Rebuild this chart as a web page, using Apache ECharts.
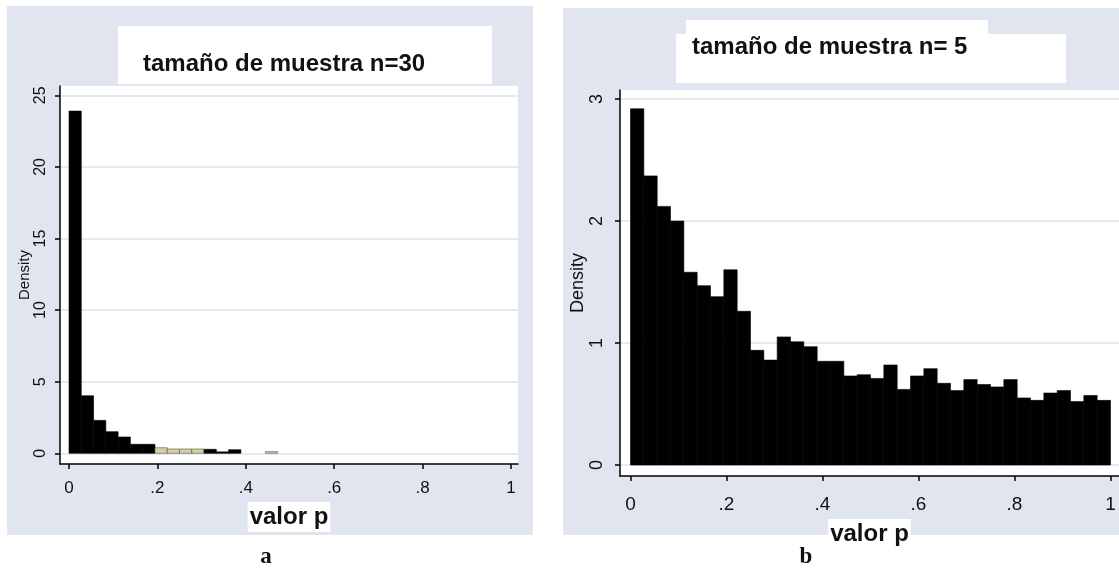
<!DOCTYPE html>
<html>
<head>
<meta charset="utf-8">
<script src="https://cdn.jsdelivr.net/npm/echarts@6/dist/echarts.min.js"></script>
<style>
  html, body { margin: 0; padding: 0; background: #fff; }
  #main { width: 1119px; height: 570px; }
</style>
</head>
<body>
<div id="main"></div>
<script>
// histogram of p-values, 36 bins on [0, 1]
const binCount = 36
const xTicks = [0, 0.2, 0.4, 0.6, 0.8, 1]
const leftYTicks = [0, 5, 10, 15, 20, 25]
const rightYTicks = [0, 1, 2, 3]
const leftDensity = [23.9, 4.02, 2.30, 1.51, 1.14, 0.63, 0.63, 0.39, 0.30, 0.30, 0.30, 0.28,
  0.10, 0.25, 0, 0, 0.12, 0, 0, 0, 0, 0, 0, 0, 0, 0, 0, 0, 0, 0, 0, 0, 0, 0, 0, 0]
const rightDensity = [2.92, 2.37, 2.12, 2.00, 1.58, 1.47, 1.38, 1.60, 1.26, 0.94, 0.86, 1.05,
  1.01, 0.97, 0.85, 0.85, 0.73, 0.74, 0.71, 0.82, 0.62, 0.73, 0.79, 0.67,
  0.61, 0.70, 0.66, 0.64, 0.70, 0.55, 0.53, 0.59, 0.61, 0.52, 0.57, 0.53]
// bins that look washed out (beige) in the left picture
const leftPaleBins = [7, 8, 9, 10, 16]

const panelBg = '#e0e5ef'
const gridColor = '#dde2ec'
const font = 'Liberation Sans, Arial, sans-serif'

const chart = echarts.init(document.getElementById('main'))

function toBins (arr) {
  return arr.map((v, i) => [i / binCount, (i + 1) / binCount, v, i])
}

function renderBar (pale) {
  return function (params, api) {
    if (!(api.value(2) > 0)) return null
    const p0 = api.coord([api.value(0), api.value(2)])
    const p1 = api.coord([api.value(1), 0])
    const isPale = pale && pale.indexOf(api.value(3)) >= 0
    return {
      type: 'rect',
      shape: { x: p0[0], y: p0[1], width: p1[0] - p0[0], height: p1[1] - p0[1] },
      style: {
        fill: isPale ? '#d6cf9e' : '#000',
        stroke: isPale ? '#555' : '#000',
        lineWidth: 0.6
      }
    }
  }
}

function tickFmt (v) {
  if (v === 0 || v === 1) return String(v)
  return String(Math.round(v * 10) / 10).replace(/^0/, '')
}

function xAxisOf (gridIndex, min, max, fontSize, margin) {
  return {
    type: 'value',
    gridIndex: gridIndex,
    min: min,
    max: max,
    name: 'valor p',
    nameLocation: 'middle',
    nameGap: 28,
    nameTextStyle: {
      fontFamily: font, fontWeight: 'bold', fontSize: 24, color: '#111',
      backgroundColor: '#fff', padding: [3, 2, 3, 2]
    },
    axisLine: { show: true, onZero: false, lineStyle: { color: '#000', width: 1.5 } },
    axisTick: { show: true, length: 5, customValues: xTicks, lineStyle: { color: '#000', width: 1.5 } },
    axisLabel: { customValues: xTicks, formatter: tickFmt, margin: margin, fontFamily: font, fontSize: fontSize, color: '#111' },
    splitLine: { show: false }
  }
}

function yAxisOf (gridIndex, min, max, ticks, fontSize, nameSize, nameGap, margin) {
  return {
    type: 'value',
    gridIndex: gridIndex,
    min: min,
    max: max,
    name: 'Density',
    nameLocation: 'middle',
    nameGap: nameGap,
    nameTextStyle: { fontFamily: font, fontSize: nameSize, color: '#111' },
    axisLine: { show: true, onZero: false, lineStyle: { color: '#000', width: 1.5 } },
    axisTick: { show: true, length: 5, customValues: ticks, lineStyle: { color: '#000', width: 1.5 } },
    axisLabel: { customValues: ticks, rotate: 90, margin: margin, fontFamily: font, fontSize: fontSize, color: '#111' },
    splitLine: { show: true, lineStyle: { color: gridColor, width: 1.5 } }
  }
}

const option = {
  backgroundColor: '#fff',
  animation: false,
  graphic: [
    // panel backgrounds and white title boxes
    { type: 'rect', z: -20, shape: { x: 7, y: 6, width: 526, height: 529 }, style: { fill: panelBg } },
    { type: 'rect', z: -20, shape: { x: 563, y: 8, width: 556, height: 527 }, style: { fill: panelBg } },
    { type: 'rect', z: -10, shape: { x: 118, y: 26, width: 374, height: 58 }, style: { fill: '#fff' } },
    { type: 'rect', z: -10, shape: { x: 686, y: 20, width: 302, height: 16 }, style: { fill: '#fff' } },
    { type: 'rect', z: -10, shape: { x: 676, y: 34, width: 390, height: 49 }, style: { fill: '#fff' } },
    { type: 'text', style: { x: 266, y: 569, text: 'a', textAlign: 'center', textVerticalAlign: 'bottom', font: 'bold 23px "Liberation Serif", serif', fill: '#111' } },
    { type: 'text', style: { x: 806, y: 569, text: 'b', textAlign: 'center', textVerticalAlign: 'bottom', font: 'bold 23px "Liberation Serif", serif', fill: '#111' } }
  ],
  title: [
    { text: 'tamaño de muestra n=30', left: 143, top: 52, padding: 0, textStyle: { fontFamily: font, fontWeight: 'bold', fontSize: 24, lineHeight: 24, color: '#111' } },
    { text: 'tamaño de muestra n= 5', left: 692, top: 35, padding: 0, textStyle: { fontFamily: font, fontWeight: 'bold', fontSize: 24, lineHeight: 24, color: '#111' } }
  ],
  grid: [
    { left: 60, top: 86, width: 458, height: 378, show: true, backgroundColor: '#fff', borderWidth: 0 },
    { left: 620, top: 90, width: 499, height: 386, show: true, backgroundColor: '#fff', borderWidth: 0 }
  ],
  xAxis: [
    xAxisOf(0, -0.0204, 1.0158, 17, 16),
    xAxisOf(1, -0.0219, 1.0177, 19, 19)
  ],
  yAxis: [
    yAxisOf(0, -0.747, 25.65, leftYTicks, 16, 15, 26, 11),
    yAxisOf(1, -0.09, 3.074, rightYTicks, 18, 18, 31, 14)
  ],
  series: [
    {
      type: 'custom',
      xAxisIndex: 0,
      yAxisIndex: 0,
      clip: true,
      renderItem: renderBar(leftPaleBins),
      encode: { x: [0, 1], y: 2 },
      data: toBins(leftDensity)
    },
    {
      type: 'custom',
      xAxisIndex: 1,
      yAxisIndex: 1,
      clip: true,
      renderItem: renderBar(null),
      encode: { x: [0, 1], y: 2 },
      data: toBins(rightDensity)
    }
  ]
}

chart.setOption(option)
</script>
</body>
</html>
